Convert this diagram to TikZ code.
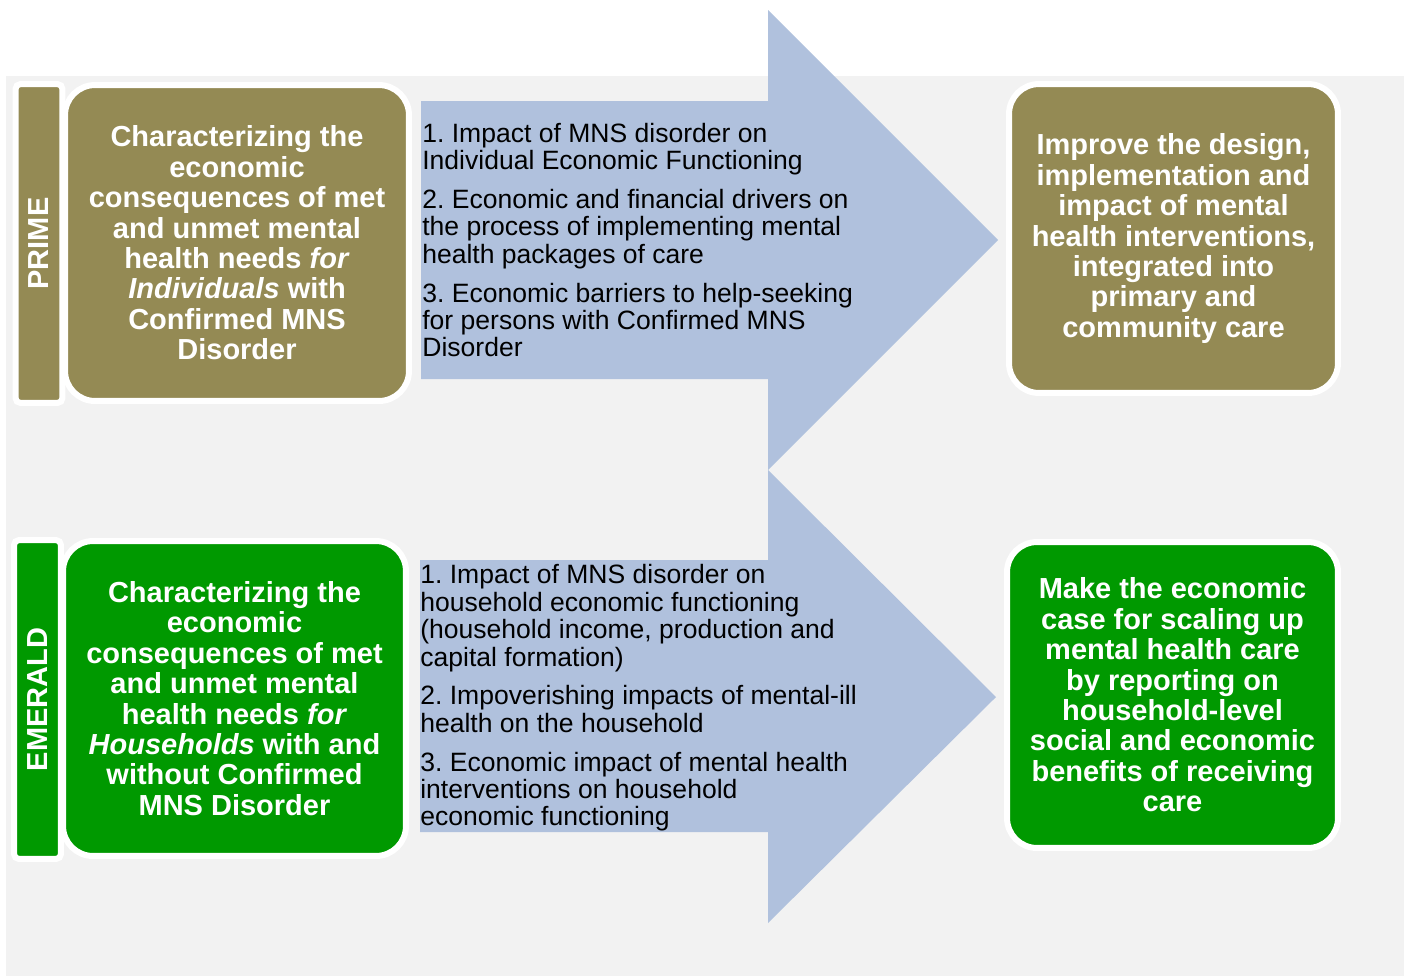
\documentclass[tikz,border=0pt]{standalone}
\usepackage{fontspec}
\setmainfont{Liberation Sans}
\frenchspacing

\definecolor{olive}{HTML}{948A54}
\definecolor{emerald}{HTML}{009900}
\definecolor{arrowblue}{HTML}{B0C1DD}
\definecolor{backgray}{HTML}{F2F2F2}

\begin{document}
\begin{tikzpicture}[x=0.02cm, y=-0.02cm,
    bar/.style={draw=white, line width=0.12cm, rounded corners=0.1cm, minimum width=0.94cm, minimum height=6.38cm, inner sep=0pt},
    card/.style={draw=white, line width=0.12cm, rounded corners=0.6cm, text=white, align=center, inner sep=0pt,
        font=\fontsize{16.5}{17.3}\selectfont\bfseries},
    tag/.style={rotate=90, text=white, font=\fontsize{16.5}{17.3}\selectfont\bfseries},
    steps/.style={anchor=west, align=left, inner sep=0pt, font=\fontsize{15.1}{15.6}\selectfont}]

    \useasboundingbox (0,0) rectangle (1409,978);

    % Background
    \fill[backgray] (6,76) rectangle (1404,976);

    %% PRIME

    % Arrow
    \fill[arrowblue] (421,101) -- (768,101) -- (768,10) -- (998,240) -- (768,470) -- (768,379) -- (421,379) -- cycle;
    \node[steps] (primesteps) at (422,240) {1. Impact of MNS disorder on\\
        Individual Economic Functioning\\[6.5pt]
        2. Economic and financial drivers on\\
        the process of implementing mental\\
        health packages of care\\[6.5pt]
        3. Economic barriers to help-seeking\\
        for persons with Confirmed MNS\\
        Disorder};

    % Boxes
    \node[bar, fill=olive] (primebar) at (39,243.5) {};
    \node[tag] (primetag) at (primebar) {PRIME};
    \node[card, fill=olive, minimum width=6.88cm, minimum height=6.32cm] (primecause) at (237,243) {Characterizing the\\
        economic\\
        consequences of met\\
        and unmet mental\\
        health needs \textit{for}\\
        \textit{Individuals} with\\
        Confirmed MNS\\
        Disorder};
    \node[card, fill=olive, minimum width=6.58cm, minimum height=6.18cm] (primegoal) at (1173.5,238.5) {Improve the design,\\
        implementation and\\
        impact of mental\\
        health interventions,\\
        integrated into\\
        primary and\\
        community care};

    %% EMERALD

    % Arrow
    \fill[arrowblue] (420,560) -- (768,560) -- (768,470) -- (996,697) -- (768,923) -- (768,832) -- (420,832) -- cycle;
    \node[steps] (emeraldsteps) at (420,698) {1. Impact of MNS disorder on\\
        household economic functioning\\
        (household income, production and\\
        capital formation)\\[6.5pt]
        2. Impoverishing impacts of mental-ill\\
        health on the household\\[6.5pt]
        3. Economic impact of mental health\\
        interventions on household\\
        economic functioning};

    % Boxes
    \node[bar, fill=emerald] (emeraldbar) at (37.5,699.5) {};
    \node[tag] (emeraldtag) at (emeraldbar) {EMERALD};
    \node[card, fill=emerald, minimum width=6.86cm, minimum height=6.3cm] (emeraldcause) at (234.5,698.5) {Characterizing the\\
        economic\\
        consequences of met\\
        and unmet mental\\
        health needs \textit{for}\\
        \textit{Households} with and\\
        without Confirmed\\
        MNS Disorder};
    \node[card, fill=emerald, minimum width=6.62cm, minimum height=6.12cm] (emeraldgoal) at (1172.5,695) {Make the economic\\
        case for scaling up\\
        mental health care\\
        by reporting on\\
        household-level\\
        social and economic\\
        benefits of receiving\\
        care};

\end{tikzpicture}
\end{document}
